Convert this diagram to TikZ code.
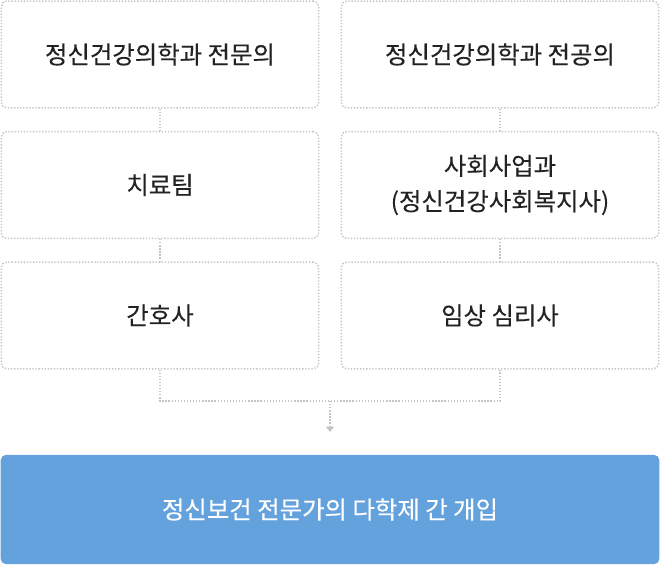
\documentclass[tikz,border=0pt]{standalone}
\usepackage{fontspec}
\setmainfont{Noto Sans CJK KR}[FakeBold=0.3]
\usepackage{xcolor}
\usetikzlibrary{arrows.meta, positioning}
\definecolor{dotgray}{HTML}{C4C4C4}
\definecolor{teamblue}{HTML}{64A2DE}
\definecolor{inktext}{HTML}{222222}

\begin{document}
\begin{tikzpicture}[
    x=0.75pt, y=-0.75pt,
    role/.style={rectangle, rounded corners=4pt, draw=dotgray, line width=1.1pt,
        dash pattern=on 1pt off 1.3pt, minimum width=238pt, minimum height=80pt,
        align=center, text=inktext, font=\fontsize{18.3}{26.5}\selectfont},
    goal/.style={rectangle, rounded corners=4pt, fill=teamblue, minimum width=494pt,
        minimum height=82pt, text=white, font=\fontsize{18.3}{26.5}\selectfont},
    link/.style={draw=dotgray, line width=1.1pt, dash pattern=on 1pt off 1.3pt}
]
    \useasboundingbox (0,0) rectangle (660,565);

    % Professions
    \node[role] (psych) at (160,54.5) {정신건강의학과 전문의};
    \node[role] (nursing) at (500,54.5) {정신건강의학과 전공의};
    \node[role] (team) at (160,185) {치료팀};
    \node[role] (social) at (500,185) {사회사업과\\(정신건강사회복지사)};
    \node[role] (nurse) at (160,315.5) {간호사};
    \node[role] (clinic) at (500,315.5) {임상 심리사};

    % Result
    \node[goal] (joint) at (330,509.5) {정신보건 전문가의 다학제 간 개입};

    % Links
    \coordinate (mergeL) at (160,401);
    \coordinate (mergeR) at (500,401);
    \coordinate (mergeC) at (330,401);
    \path[link] (psych) -- (team);
    \path[link] (team) -- (nurse);
    \path[link] (nursing) -- (social);
    \path[link] (social) -- (clinic);
    \path[link] (nurse) -- (mergeL) -- (mergeR) -- (clinic);
    \path[link, -{Triangle[width=6pt, length=4pt, fill=dotgray]}, shorten >=17pt] (mergeC) -- (joint);
\end{tikzpicture}
\end{document}
